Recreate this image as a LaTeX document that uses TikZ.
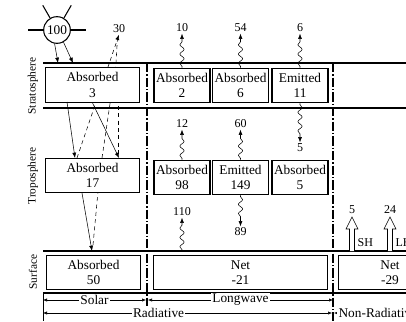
\documentclass[tikz,border=0pt]{standalone}
\usepackage{fontspec}
\setmainfont{Liberation Serif}
\usetikzlibrary{arrows.meta,decorations.pathmorphing,positioning}

\begin{document}
\begin{tikzpicture}[
  x=0.75pt, y=-0.75pt,
  every node/.style={font=\fontsize{10}{11.5}\selectfont},
  box/.style={rectangle, draw, thick, fill=white, minimum height=26pt, inner sep=1pt, align=center},
  lbl/.style={font=\fontsize{9}{10}\selectfont, inner sep=1pt},
  layer/.style={font=\fontsize{8.5}{10}\selectfont, rotate=90},
  arr/.style={-{Latex[length=4pt,width=3pt]}},
  refl/.style={dashed, dash pattern=on 3pt off 2.5pt},
  wavy/.style={decorate, decoration={snake, amplitude=1.6pt, segment length=7pt, pre length=1pt, post length=4pt}, -{Latex[length=4pt,width=3pt]}},
  sep/.style={thick, dash pattern=on 7pt off 1.5pt on 1pt off 1.5pt},
  dim/.style={{Latex[length=3pt,width=2.5pt]}-{Latex[length=3pt,width=2.5pt]}},
  tag/.style={fill=white, inner sep=1pt},
]
\useasboundingbox (0,0) rectangle (406,321);
\clip (0,0) rectangle (406,321);

% layer boundaries
\draw[thick] (43,63) -- (406,63);
\draw[thick] (43,108) -- (406,108);
\draw[thick] (43,251) -- (406,251);
\draw[thick] (43,293) -- (406,293);
\draw[sep] (147,63) -- (147,306);
\draw[sep] (333,63) -- (333,321);
\draw (43,293) -- (43,321);

\node[layer] (strat) at (33,86) {Stratosphere};
\node[layer] (trop) at (33,176) {Troposphere};
\node[layer] (surf) at (33,272) {Surface};

% reflected solar (behind boxes)
\node[lbl] (out30) at (119,29) {30};
\coordinate (r1) at (77,158);
\coordinate (r2) at (102,158);
\coordinate (r2b) at (116,63);
\coordinate (r3) at (118,106);
\coordinate (r3b) at (118,157);
\coordinate (r4) at (93,245);
\draw[refl, arr] (r1) -- (out30.south);
\draw[refl] (r2) -- (r2b) -- ([xshift=-1pt]out30.south);
\draw[refl] (r3) -- (r3b);

% boxes
\node[box, minimum width=71pt] (abs3) at (92.5,85) {Absorbed\\3};
\node[box, minimum width=42pt] (abs2) at (182,85.5) {Absorbed\\2};
\node[box, minimum width=42pt] (abs6) at (240.5,85.5) {Absorbed\\6};
\node[box, minimum width=42pt] (emit11) at (300,85.5) {Emitted\\11};

\node[box, minimum width=71pt] (abs17) at (92.5,175.5) {Absorbed\\17};
\node[box, minimum width=42pt] (abs98) at (182,177.5) {Absorbed\\98};
\node[box, minimum width=42pt] (emit149) at (240.5,177.5) {Emitted\\149};
\node[box, minimum width=42pt] (abs5) at (300,177.5) {Absorbed\\5};

\node[box, minimum width=70pt] (abs50) at (93.5,272.5) {Absorbed\\50};
\node[box, minimum width=131pt] (net21) at (240.5,272.5) {Net\\-21};
\node[box, minimum width=77pt] (net29) at (390,272.5) {Net\\-29};

% sun
\node[circle, draw, thick, minimum size=20pt, inner sep=0pt] (sun) at (57,30) {100};
\foreach \a in {0,60,120,180}
  \draw[thick] (sun.\a) -- ++(\a:11pt);

% solar in
\coordinate (s1) at (58,63);
\coordinate (s2) at (73,63);
\coordinate (a1) at (67,102);
\coordinate (a1b) at (75,158);
\coordinate (a2b) at (119,158);
\coordinate (a3) at (82,193);
\coordinate (a3b) at (92,251);
\draw[arr] (sun.-100) -- (s1);
\draw[arr] (sun.-62) -- (s2);
\draw[arr] (a1) -- (a1b);
\draw[arr] (abs3.south) -- (a2b);
\draw[arr] (a3) -- (a3b);
\draw[refl] (r4) -- ([xshift=4pt]abs17.south);

% longwave
\node[lbl] (out10) at (182,28) {10};
\node[lbl] (out54) at (240.5,28) {54};
\node[lbl] (out6) at (300,28) {6};
\node[lbl] (dn5) at (300,148) {5};
\node[lbl] (up12) at (182,124) {12};
\node[lbl] (up60) at (240.5,124) {60};
\node[lbl] (dn89) at (240.5,232) {89};
\node[lbl] (up110) at (182,212) {110};
\coordinate (g110) at (182,251);
\draw[wavy] (abs2.north) -- (out10.south);
\draw[wavy] (abs6.north) -- (out54.south);
\draw[wavy] (emit11.north) -- (out6.south);
\draw[wavy] (emit11.south) -- (dn5.north);
\draw[wavy] (abs98.north) -- (up12.south);
\draw[wavy] (emit149.north) -- (up60.south);
\draw[wavy] (emit149.south) -- (dn89.north);
\draw[wavy] (g110) -- (up110.south);

% sensible and latent heat
\node[lbl] (sh5) at (352,210) {5};
\node[lbl] (lh24) at (390,210) {24};
\draw[fill=white] (349.5,251) -- (349.5,229) -- (346,229) -- (352,217) -- (358,229) -- (354.5,229) -- (354.5,251);
\draw[fill=white] (387.5,251) -- (387.5,229) -- (384,229) -- (390,217) -- (396,229) -- (392.5,229) -- (392.5,251);
\node[lbl, anchor=west] (shl) at (356,243) {SH};
\node[lbl, anchor=west] (lhl) at (394,243) {LH};

% bottom scale
\coordinate (b0) at (43,300);
\coordinate (b1) at (146,300);
\coordinate (b2) at (148,300);
\coordinate (b3) at (333,300);
\coordinate (c0) at (43,313);
\coordinate (c1) at (332,313);
\coordinate (c2) at (334,313);
\draw[dim] (b0) -- node[tag] (solar) {Solar} (b1);
\draw[dim] (b2) -- node[tag] (lw) {Longwave} (b3);
\draw[dim] (c0) -- node[tag, pos=0.4] (rad) {Radiative} (c1);
\draw[{Latex[length=3pt,width=2.5pt]}-] (c2) -- (420,313);
\node[tag, anchor=west] (nonrad) at (337,313) {Non-Radiative};

\end{tikzpicture}
\end{document}
